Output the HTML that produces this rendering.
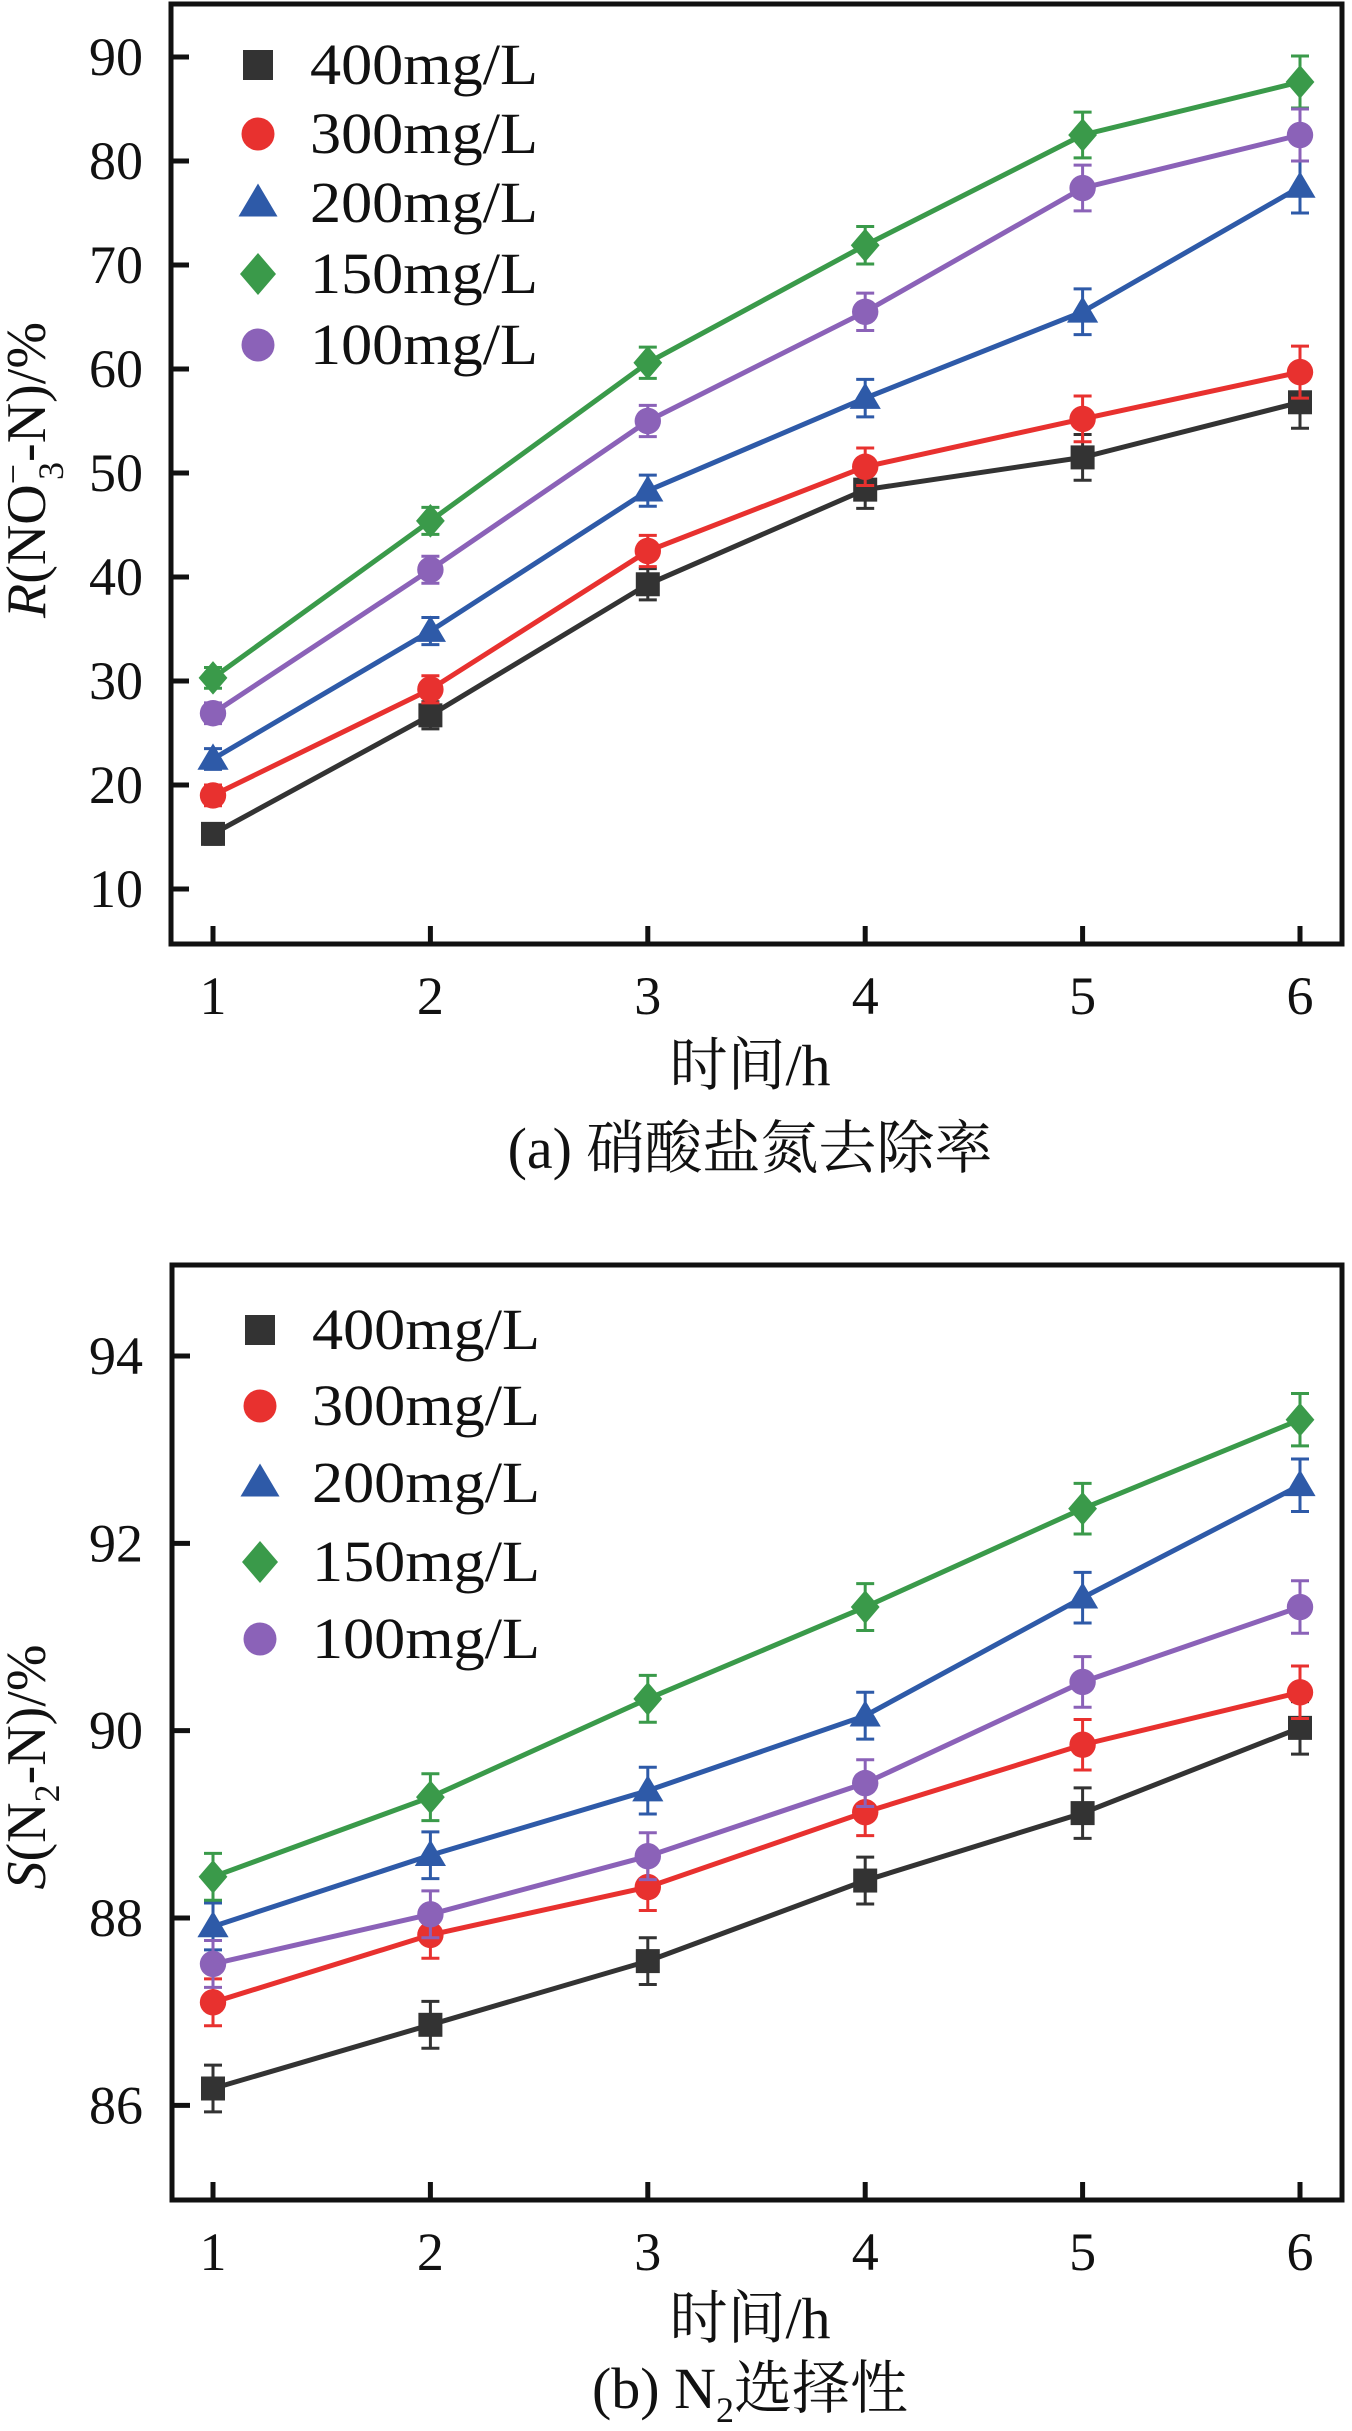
<!DOCTYPE html>
<html><head><meta charset="utf-8"><style>
html,body{margin:0;padding:0;background:#fff;}
svg{display:block;}
text{font-family:"Liberation Serif","Noto Serif CJK SC","Noto Sans CJK SC",serif;fill:#111;}
</style></head><body>
<svg id="fig" width="1352" height="2431" viewBox="0 0 1352 2431" xmlns="http://www.w3.org/2000/svg"></svg>
<script>
const xCats=[1,2,3,4,5,6];
const seriesNames=["400mg/L","300mg/L","200mg/L","150mg/L","100mg/L"];
const aS400=[15.3,26.7,39.3,48.4,51.5,56.8];
const aS300=[19.0,29.2,42.5,50.6,55.2,59.7];
const aS200=[22.5,34.8,48.3,57.2,65.5,77.5];
const aS150=[30.3,45.4,60.6,71.9,82.5,87.6];
const aS100=[26.9,40.7,55.0,65.5,77.4,82.5];
const aErr=[1.0,1.3,1.5,1.8,2.2,2.5];
const aTicks=[10,20,30,40,50,60,70,80,90];
const bS400=[86.18,86.86,87.54,88.40,89.12,90.03];
const bS300=[87.10,87.82,88.33,89.13,89.85,90.41];
const bS200=[87.91,88.67,89.36,90.16,91.42,92.62];
const bS150=[88.44,89.29,90.34,91.32,92.37,93.32];
const bS100=[87.51,88.04,88.66,89.44,90.52,91.32];
const bErr=[0.25,0.25,0.25,0.25,0.27,0.28];
const bTicks=[86,88,90,92,94];
const colors=["#333333","#e8312f","#2e5aa8","#3a9a4a","#8b62b8"];
const shapes=["square","circle","triangle","diamond","circle"];
const NS="http://www.w3.org/2000/svg";
const svg=document.getElementById('fig');
function el(tag,attrs,parent){const e=document.createElementNS(NS,tag);for(const k in attrs)e.setAttribute(k,attrs[k]);(parent||svg).appendChild(e);return e;}
function marker(g,shape,x,y,c,s){
  let m;
  if(shape==="square")m=el('rect',{x:x-s,y:y-s,width:2*s,height:2*s,fill:c},g);
  else if(shape==="circle")m=el('circle',{cx:x,cy:y,r:s*1.1,fill:c},g);
  else if(shape==="triangle")m=el('polygon',{points:`${x},${y-s*1.3} ${x+s*1.3},${y+s*0.9} ${x-s*1.3},${y+s*0.9}`,fill:c},g);
  else m=el('polygon',{points:`${x},${y-s*1.4} ${x+s*1.2},${y} ${x},${y+s*1.4} ${x-s*1.2},${y}`,fill:c},g);
  return m;
}
function chart(cfg){
  const g=el('g',{});
  
  
  const X=v=>213+(v-1)*217.4;
  const Y=v=>cfg.y0+(cfg.v0-v)*cfg.py;
  const fr=el('rect',{x:cfg.L,y:cfg.T,width:1342-cfg.L,height:cfg.B-cfg.T,fill:'none',stroke:'#111','stroke-width':5},g);
  
  
  cfg.ticks.forEach(t=>{
    const tk=el('line',{x1:cfg.L,x2:cfg.L+18,y1:Y(t),y2:Y(t),stroke:'#111','stroke-width':5},g);
    
    
    const tl=el('text',{x:143,y:Y(t)+18,'text-anchor':'end','font-size':54},g);
    tl.textContent=t;
    
    
  });
  xCats.forEach(c=>{
    const tk=el('line',{x1:X(c),x2:X(c),y1:cfg.B,y2:cfg.B-18,stroke:'#111','stroke-width':5},g);
    
    
    const tl=el('text',{x:X(c),y:cfg.B+70,'text-anchor':'middle','font-size':54},g);
    tl.textContent=c;
    
    
  });
  cfg.series.forEach((vals,i)=>{
    const sg=el('g',{},g);
    
    
    const pl=el('polyline',{points:vals.map((v,j)=>X(xCats[j])+','+Y(v)).join(' '),fill:'none',stroke:colors[i],'stroke-width':5},sg);
    
    
    vals.forEach((v,j)=>{
      const x=X(xCats[j]),e=cfg.err[j];
      const eb=el('path',{d:`M${x},${Y(v+e)}V${Y(v-e)}M${x-9},${Y(v+e)}H${x+9}M${x-9},${Y(v-e)}H${x+9}`,stroke:colors[i],'stroke-width':3,fill:'none'},sg);
      
      
      const m=marker(sg,shapes[i],x,Y(v),colors[i],12);
      
      
    });
  });
  cfg.legY.forEach((ly,i)=>{
    const lg=el('g',{},g);
    
    
    marker(lg,shapes[i],cfg.legX,ly,colors[i],15);
    const t=el('text',{x:cfg.legX+52,y:ly+19,'font-size':58,textLength:228,lengthAdjust:'spacingAndGlyphs'},lg);
    t.textContent=seriesNames[i];
  });
  const xt=el('text',{x:750,y:cfg.xtY,'text-anchor':'middle','font-size':58},g);
  xt.textContent='时间/h';
  
  
  const cap=el('text',{x:750,y:cfg.capY,'text-anchor':'middle','font-size':58},g);
  cap.innerHTML=cfg.cap;
  
  
  const yt=el('text',{transform:`translate(${cfg.ytX},${cfg.ytY}) rotate(-90)`,'text-anchor':'middle','font-size':56},g);
  yt.innerHTML=cfg.yt;
  
  
}
chart({name:'chart-a-nitrate-removal',L:171,T:4,B:944,y0:57,v0:90,py:10.4,ticks:aTicks,err:aErr,
  series:[aS400,aS300,aS200,aS150,aS100],legX:258,legY:[65,134,203,274,345],
  xtY:1085,capY:1168,cap:'(a) 硝酸盐氮去除率',ytX:45,ytY:470,
  yt:'<tspan font-style="italic">R</tspan>(NO<tspan font-size="36" dy="-20">−</tspan><tspan font-size="36" dx="-16" dy="38">3</tspan><tspan dy="-18">-N)/%</tspan>'});
chart({name:'chart-b-n2-selectivity',L:172,T:1265,B:2200,y0:1356,v0:94,py:93.67,ticks:bTicks,err:bErr,
  series:[bS400,bS300,bS200,bS150,bS100],legX:260,legY:[1330,1406,1483,1562,1639],
  xtY:2338,capY:2408,cap:'(b) N<tspan font-size="36" dy="14">2</tspan><tspan dy="-14">选择性</tspan>',ytX:45,ytY:1767,
  yt:'<tspan font-style="italic">S</tspan>(N<tspan font-size="36" dy="14">2</tspan><tspan dy="-14">-N)/%</tspan>'});
</script>
</body></html>
